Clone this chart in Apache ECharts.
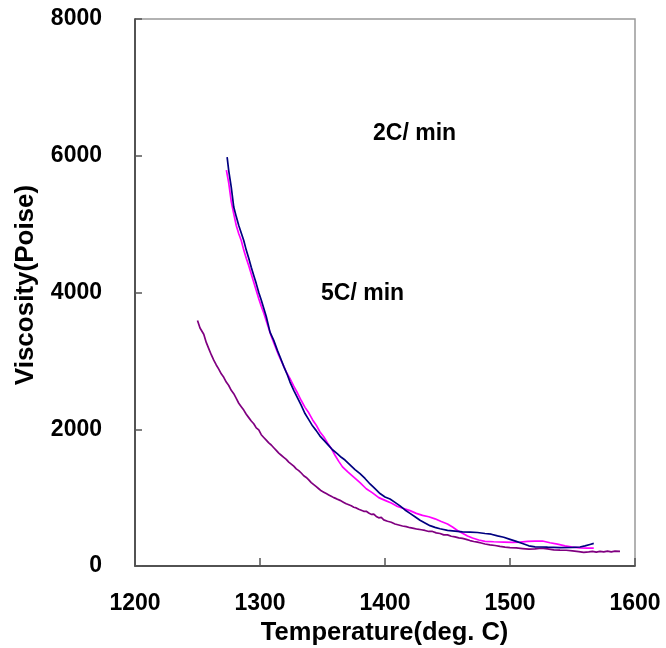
<!DOCTYPE html>
<html>
<head>
<meta charset="utf-8">
<script src="https://cdn.jsdelivr.net/npm/echarts@6/dist/echarts.min.js"></script>
<style>
html,body{margin:0;padding:0;background:#fff;}
#chart{width:666px;height:648px;}
</style>
</head>
<body>
<div id="chart"></div>
<script>
// X axis (Temperature, deg. C)
const xTicks = [1200, 1300, 1400, 1500, 1600];
// Y axis (Viscosity, Poise)
const yTicks = [0, 2000, 4000, 6000, 8000];

// Navy curve
const navyT = [1273.7,1275,1277,1279,1281,1283,1285,1287,1289,1291,1293,1295,1297,1299,1301,1303,1305,1308,1311,1314,1316,1319,1322,1324,1327,1330,1333,1336,1339,1342,1345,1348,1351,1355,1358,1362,1365,1368,1372,1376,1380,1384,1388,1392,1396,1400,1404,1408,1412,1416,1420,1424,1428,1432,1436,1440,1444,1450,1456,1462,1468,1474,1480,1485,1490,1495,1500,1505,1510,1515,1520,1525,1530,1540,1550,1556,1560,1564,1567];
const navyV = [5980,5780,5540,5250,5110,4980,4870,4760,4620,4500,4370,4250,4130,4000,3890,3770,3650,3420,3300,3150,3060,2920,2790,2690,2570,2460,2350,2230,2140,2050,1980,1900,1840,1760,1700,1640,1590,1550,1480,1410,1350,1280,1200,1130,1060,1010,980,930,880,820,770,720,670,630,590,565,545,520,510,500,495,490,475,465,440,420,390,360,330,295,280,278,275,270,272,278,295,315,330];

// Magenta curve
const magentaT = [1273.1,1275,1277,1279,1281,1283,1285,1287,1289,1291,1293,1295,1297,1299,1301,1303,1306,1309,1312,1315,1318,1321,1324,1327,1330,1333,1336,1339,1342,1345,1348,1351,1354,1357,1360,1363,1366,1370,1375,1380,1385,1390,1395,1400,1405,1410,1415,1420,1425,1430,1435,1440,1445,1450,1454,1458,1462,1466,1470,1475,1480,1487,1495,1502,1508,1514,1520,1526,1532,1538,1544,1550,1556,1562,1567];
const magentaV = [5790,5600,5330,5150,4980,4860,4760,4620,4500,4390,4270,4150,4030,3910,3800,3700,3530,3360,3220,3080,2960,2840,2740,2630,2530,2420,2320,2240,2140,2060,1960,1890,1800,1720,1620,1530,1450,1380,1300,1220,1130,1070,1000,960,920,870,840,810,770,740,720,690,650,615,570,520,480,440,410,380,360,355,350,345,350,360,365,365,340,320,295,275,265,262,262];

// Purple curve
const purpleT = [1250,1252,1255,1257,1259,1261,1263,1265,1267,1269,1271,1273,1275,1277,1279,1281,1283,1285,1287,1289,1291,1293,1295,1297,1299,1301,1302,1303,1305,1306,1307,1309,1310,1311,1313,1314,1315,1317,1318,1319,1321,1322,1323,1325,1326,1327,1329,1331,1332,1333,1335,1337,1338,1339,1341,1343,1345,1347,1349,1351,1353,1355,1357,1359,1361,1364,1367,1369,1371,1373,1375,1377,1379,1381,1383,1385,1387,1389,1391,1393,1395,1397,1399,1402,1405,1408,1411,1414,1417,1420,1423,1426,1429,1432,1435,1438,1441,1444,1447,1450,1453,1456,1459,1462,1465,1468,1471,1474,1477,1480,1484,1488,1492,1496,1500,1505,1510,1515,1520,1525,1530,1535,1540,1545,1550,1555,1559,1563,1566,1569,1572,1575,1578,1581,1584,1588];
const purpleV = [3590,3480,3390,3270,3180,3090,3010,2940,2880,2810,2760,2690,2640,2570,2520,2450,2380,2330,2280,2220,2170,2120,2080,2020,1990,1920,1940,1880,1840,1860,1800,1770,1790,1730,1690,1710,1650,1620,1640,1590,1560,1580,1520,1490,1510,1460,1420,1395,1405,1360,1320,1295,1305,1260,1220,1190,1160,1130,1100,1080,1060,1040,1020,1000,985,960,930,910,895,880,860,850,830,815,800,800,775,755,760,725,705,710,675,655,640,615,600,585,575,560,550,538,530,520,505,505,485,475,455,455,435,425,412,405,390,372,358,350,336,322,310,300,286,276,270,264,255,246,250,260,250,236,232,230,220,210,198,206,213,202,214,206,218,206,217,214];

const annotations = ['2C/ min', '5C/ min'];
const xTitle = 'Temperature(deg. C)';
const yTitle = 'Viscosity(Poise)';

function zip(a, b) { return a.map((v, i) => [v, b[i]]); }

const FONT = '"Liberation Sans", Arial, sans-serif';
const chart = echarts.init(document.getElementById('chart'), null, {renderer: 'canvas'});
chart.setOption({
  animation: false,
  backgroundColor: '#fff',
  grid: {left: 135, right: 31, top: 19, bottom: 82, show: true, borderColor: '#999', borderWidth: 1.5, backgroundColor: 'transparent'},
  xAxis: {
    type: 'value', min: xTicks[0], max: xTicks[xTicks.length - 1], interval: 100,
    axisLine: {show: true, onZero: false, lineStyle: {color: '#333', width: 1.5}},
    axisTick: {show: true, inside: true, length: 8, lineStyle: {color: '#555', width: 1.5}},
    splitLine: {show: false},
    axisLabel: {margin: 26, color: '#000', fontFamily: FONT, fontWeight: 'bold', fontSize: 23, formatter: v => String(v)}
  },
  yAxis: {
    type: 'value', min: yTicks[0], max: yTicks[yTicks.length - 1], interval: 2000,
    axisLine: {show: true, onZero: false, lineStyle: {color: '#333', width: 1.5}},
    axisTick: {show: true, inside: true, length: 7, lineStyle: {color: '#555', width: 1.5}},
    splitLine: {show: false},
    axisLabel: {margin: 33, color: '#000', fontFamily: FONT, fontWeight: 'bold', fontSize: 23, formatter: v => String(v)}
  },
  series: [
    {type: 'line', data: zip(navyT, navyV), showSymbol: false, symbol: 'none', lineStyle: {color: '#000080', width: 1.7}, z: 3},
    {type: 'line', data: zip(magentaT, magentaV), showSymbol: false, symbol: 'none', lineStyle: {color: '#FF00FF', width: 1.7}, z: 2},
    {type: 'line', data: zip(purpleT, purpleV), showSymbol: false, symbol: 'none', lineStyle: {color: '#800080', width: 1.7}, z: 2}
  ],
  graphic: [
    {type: 'text', left: 373, top: 122, style: {text: annotations[0], fill: '#000', font: 'bold 23px ' + FONT}},
    {type: 'text', left: 321, top: 282, style: {text: annotations[1], fill: '#000', font: 'bold 23px ' + FONT}},
    {type: 'text', x: 384.6, y: 633, style: {text: xTitle, fill: '#000', font: 'bold 25.5px ' + FONT, textAlign: 'center', textVerticalAlign: 'middle'}},
    {type: 'text', x: 26, y: 285, rotation: Math.PI / 2, style: {text: yTitle, fill: '#000', font: 'bold 26px ' + FONT, textAlign: 'center', textVerticalAlign: 'middle'}}
  ]
});
</script>
</body>
</html>
